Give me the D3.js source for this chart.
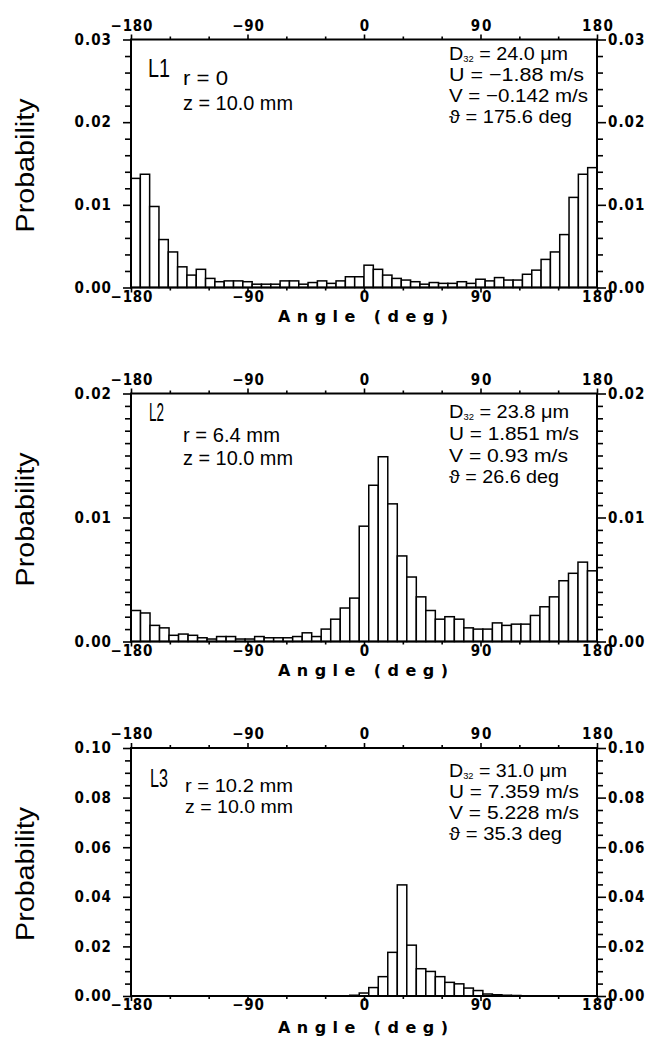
<!DOCTYPE html>
<html>
<head>
<meta charset="utf-8">
<script src="https://cdn.jsdelivr.net/npm/d3@7"></script>
<style>
  html, body { margin: 0; padding: 0; background: #fff; }
  svg { display: block; }
  text { font-family: "Liberation Sans Narrow", "Liberation Sans", "DejaVu Sans Condensed", sans-serif; fill: #000; }
</style>
</head>
<body>
<svg id="chart" width="655" height="1040"></svg>
<script>
// Droplet flight-angle probability density at z = 10 mm, three radial stations.

// Shared angle axis
const angleTicks = [-180, -90, 0, 90, 180];
const angleMinorTicks = [-150, -120, -60, -30, 30, 60, 120, 150];

// L1 (r = 0): 50 bins of 7.2 deg from -180 to 180
const probL1 = [
  0.0132, 0.0137, 0.0098, 0.0058, 0.0043, 0.0025, 0.0015, 0.0022, 0.0011, 0.0007,
  0.0008, 0.0008, 0.0007, 0.0004, 0.0004, 0.0004, 0.0008, 0.0008, 0.0004, 0.0006,
  0.0008, 0.0005, 0.0008, 0.0013, 0.0013, 0.0027, 0.0022, 0.0015, 0.0011, 0.0009,
  0.0007, 0.0004, 0.0006, 0.0005, 0.0005, 0.0007, 0.0005, 0.0010, 0.0008, 0.0012,
  0.0009, 0.0009, 0.0016, 0.0021, 0.0034, 0.0043, 0.0064, 0.0109, 0.0137, 0.0145
];

// L2 (r = 6.4 mm): 49 bins from -180 to 180
const probL2 = [
  0.0025, 0.0023, 0.0013, 0.0011, 0.0005, 0.0006, 0.0005, 0.0003, 0.0002, 0.0004,
  0.0004, 0.0002, 0.0002, 0.0004, 0.0003, 0.0003, 0.0003, 0.0004, 0.0007, 0.0004,
  0.0010, 0.0018, 0.0027, 0.0035, 0.0093, 0.0126, 0.0149, 0.0111, 0.0069, 0.0052,
  0.0036, 0.0025, 0.0018, 0.0020, 0.0018, 0.0011, 0.0010, 0.0010, 0.0015, 0.0013,
  0.0014, 0.0014, 0.0021, 0.0028, 0.0036, 0.0049, 0.0055, 0.0064, 0.0057
];

// L3 (r = 10.2 mm): 49 bins from -180 to 180
const probL3 = [
  0, 0, 0, 0, 0, 0, 0, 0, 0, 0,
  0, 0, 0, 0, 0, 0, 0, 0, 0, 0,
  0, 0, 0.0001, 0.0003, 0.0012, 0.0034, 0.0078, 0.0176, 0.0448, 0.0205,
  0.0110, 0.0099, 0.0078, 0.0055, 0.0049, 0.0032, 0.0022, 0.0008, 0.0005, 0.0003,
  0.0002, 0.0001, 0, 0, 0, 0, 0, 0, 0
];

// Probability axes
const yMajorL1 = [0, 0.01, 0.02, 0.03];
const yMajorL2 = [0, 0.01, 0.02];
const yMajorL3 = [0, 0.02, 0.04, 0.06, 0.08, 0.10];
const yMinorStepL1 = 0.002;
const yMinorStepL2 = 0.001;
const yMinorStepL3 = 0.005;

// Station labels and flow statistics ("|" marks the subscript of D32)
const stationL1 = ["L1", "r = 0", "z = 10.0 mm"];
const stationL2 = ["L2", "r = 6.4 mm", "z = 10.0 mm"];
const stationL3 = ["L3", "r = 10.2 mm", "z = 10.0 mm"];
const statsL1 = ["D|32| = 24.0 \u03bcm", "U = \u22121.88 m/s", "V = \u22120.142 m/s", "\u03d1 = 175.6 deg"];
const statsL2 = ["D|32| = 23.8 \u03bcm", "U = 1.851 m/s", "V = 0.93 m/s", "\u03d1 = 26.6 deg"];
const statsL3 = ["D|32| = 31.0 \u03bcm", "U = 7.359 m/s", "V = 5.228 m/s", "\u03d1 = 35.3 deg"];

const xTitle = "Angle (deg)";
const yTitle = "Probability";

// ---------------------------------------------------------------- layout
const plotLeft = 131, plotRight = 597, plotH = 248;

const panels = [
  { top: 39.5, values: probL1, yMajor: yMajorL1, yMinorStep: yMinorStepL1,
    station: stationL1, stats: statsL1,
    layout: { tag: [148, 77, 22], r: [183, 85], z: [183, 110], rW: 45, zW: 110, rzSize: 20,
              statY: [60, 81, 102, 123], statW: [119, 135, 139, 123], xTitleDy: 34 } },
  { top: 393.5, values: probL2, yMajor: yMajorL2, yMinorStep: yMinorStepL2,
    station: stationL2, stats: statsL2,
    layout: { tag: [149, 421, 15], r: [183, 442], z: [183, 465], rW: 97, zW: 110, rzSize: 20,
              statY: [418, 440, 462, 483], statW: [120, 130, 119, 110], xTitleDy: 34 } },
  { top: 748, values: probL3, yMajor: yMajorL3, yMinorStep: yMinorStepL3,
    station: stationL3, stats: statsL3,
    layout: { tag: [150, 787, 18], r: [185, 792], z: [185, 813], rW: 108, zW: 108, rzSize: 18.5,
              statY: [777, 798, 819, 840], statW: [118, 130, 130, 113], xTitleDy: 37 } }
];

// widths used to space the tick labels like the plotter lettering
function tickLabelWidth(s) {
  let w = 0;
  for (const c of s) w += (c === "." ? 5.5 : c === "\u2212" || c === "-" ? 11 : 10.3);
  return w;
}

const tickFont = '"DejaVu Sans Condensed", "DejaVu Sans", sans-serif';

const svg = d3.select("#chart");
svg.append("rect").attr("width", 655).attr("height", 1040).attr("fill", "#fff");

panels.forEach(p => {
  const g = svg.append("g");
  const bottom = p.top + plotH;
  const yMax = p.yMajor[p.yMajor.length - 1];

  const x = d3.scaleLinear().domain([-180, 180]).range([plotLeft, plotRight]);
  const y = d3.scaleLinear().domain([0, yMax]).range([bottom, p.top]);

  // histogram bars
  const n = p.values.length, bw = 360 / n;
  g.append("g").selectAll("rect").data(p.values).join("rect")
    .attr("x", (d, i) => x(-180 + i * bw))
    .attr("width", (d, i) => x(-180 + (i + 1) * bw) - x(-180 + i * bw))
    .attr("y", d => y(d))
    .attr("height", d => y(0) - y(d))
    .attr("fill", "#fff")
    .attr("stroke", "#000")
    .attr("stroke-width", 1.5);

  const minorY = d3.range(0, yMax + 1e-9, p.yMinorStep).filter(v =>
    !p.yMajor.some(m => Math.abs(m - v) < 1e-9));

  const fmtNum = d3.format(".2f");
  const fmtAng = v => (v < 0 ? "\u2212" + Math.abs(v) : String(v));

  function styleAxis(sel) {
    sel.select(".domain").remove();
    sel.selectAll("line").attr("stroke", "#000").attr("stroke-width", 1.6);
    sel.selectAll("text")
      .style("font-size", "15px")
      .style("font-weight", "bold")
      .style("font-family", tickFont)
      .attr("fill", "#000")
      .attr("lengthAdjust", "spacing")
      .attr("textLength", function () { return tickLabelWidth(this.textContent); });
  }

  // left axis
  g.append("g").attr("transform", `translate(${plotLeft},0)`)
    .call(d3.axisLeft(y).tickValues(minorY).tickSize(6).tickFormat(""))
    .call(styleAxis);
  g.append("g").attr("transform", `translate(${plotLeft},0)`)
    .call(d3.axisLeft(y).tickValues(p.yMajor).tickSize(8).tickPadding(12).tickFormat(fmtNum))
    .call(styleAxis);

  // right axis
  g.append("g").attr("transform", `translate(${plotRight},0)`)
    .call(d3.axisRight(y).tickValues(minorY).tickSize(6).tickFormat(""))
    .call(styleAxis);
  g.append("g").attr("transform", `translate(${plotRight},0)`)
    .call(d3.axisRight(y).tickValues(p.yMajor).tickSize(9).tickPadding(2).tickFormat(fmtNum))
    .call(styleAxis);

  // top axis
  g.append("g").attr("transform", `translate(0,${p.top})`)
    .call(d3.axisTop(x).tickValues(angleMinorTicks).tickSize(3).tickFormat(""))
    .call(styleAxis);
  g.append("g").attr("transform", `translate(0,${p.top})`)
    .call(d3.axisTop(x).tickValues(angleTicks).tickSize(5).tickPadding(4).tickFormat(fmtAng))
    .call(styleAxis);

  // bottom axis
  g.append("g").attr("transform", `translate(0,${bottom})`)
    .call(d3.axisBottom(x).tickValues(angleMinorTicks).tickSize(3).tickFormat(""))
    .call(styleAxis);
  g.append("g").attr("transform", `translate(0,${bottom})`)
    .call(d3.axisBottom(x).tickValues(angleTicks).tickSize(5).tickFormat(fmtAng))
    .call(styleAxis)
    .call(a => a.selectAll("text").attr("y", 14).attr("dy", null));

  // frame
  g.append("rect")
    .attr("x", plotLeft).attr("y", p.top)
    .attr("width", plotRight - plotLeft).attr("height", plotH)
    .attr("fill", "none").attr("stroke", "#000").attr("stroke-width", 2);

  // axis titles
  g.append("text")
    .attr("x", (plotLeft + plotRight) / 2 - 1)
    .attr("y", bottom + p.layout.xTitleDy)
    .attr("text-anchor", "middle")
    .attr("textLength", 170).attr("lengthAdjust", "spacing")
    .style("font-size", "16px").style("font-weight", "bold")
    .style("font-family", '"DejaVu Sans", sans-serif')
    .text(xTitle);

  g.append("text")
    .attr("transform", `translate(34,${p.top + plotH / 2 + 2}) rotate(-90)`)
    .attr("text-anchor", "middle")
    .attr("textLength", 134).attr("lengthAdjust", "spacingAndGlyphs")
    .style("font-size", "26px")
    .text(yTitle);

  // station tag and position
  const L = p.layout;
  g.append("text")
    .attr("x", L.tag[0]).attr("y", L.tag[1])
    .attr("textLength", L.tag[2]).attr("lengthAdjust", "spacingAndGlyphs")
    .style("font-size", "26px")
    .text(p.station[0]);
  g.append("text")
    .attr("x", L.r[0]).attr("y", L.r[1])
    .attr("textLength", L.rW).attr("lengthAdjust", "spacingAndGlyphs")
    .style("font-size", L.rzSize + "px")
    .text(p.station[1]);
  g.append("text")
    .attr("x", L.z[0]).attr("y", L.z[1])
    .attr("textLength", L.zW).attr("lengthAdjust", "spacingAndGlyphs")
    .style("font-size", L.rzSize + "px")
    .text(p.station[2]);

  // statistics block
  p.stats.forEach((s, i) => {
    const t = g.append("text")
      .attr("x", 449).attr("y", L.statY[i])
      .attr("textLength", L.statW[i]).attr("lengthAdjust", "spacingAndGlyphs")
      .style("font-size", "19px");
    const parts = s.split("|");
    if (parts.length === 3) {
      t.append("tspan").text(parts[0]);
      t.append("tspan").attr("dy", 2).style("font-size", "9px").text(parts[1]);
      t.append("tspan").attr("dy", -2).text(parts[2]);
    } else {
      t.text(s);
    }
  });
});
</script>
</body>
</html>
